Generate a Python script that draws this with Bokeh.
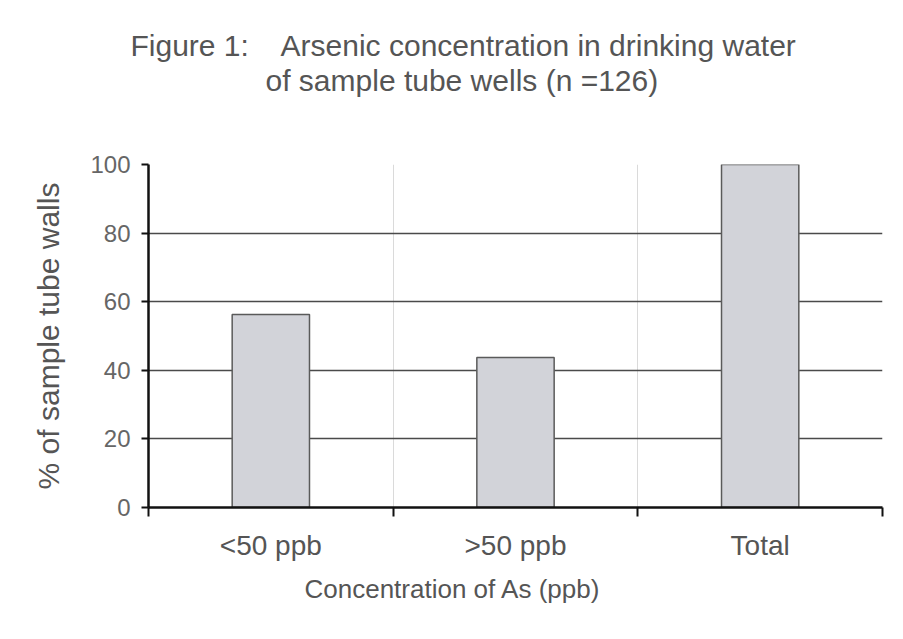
import numpy as np
from bokeh.plotting import figure
from bokeh.models import Range1d, FixedTicker, Title, LinearAxis, ColumnDataSource
from bokeh.embed import file_html
from bokeh.resources import INLINE

categories = ["<50 ppb", ">50 ppb", "Total"]
percent = [56.3, 43.7, 100.0]
y_ticks = [0, 20, 40, 60, 80, 100]

title_line1 = "Figure 1:\u00a0\u00a0\u00a0 Arsenic concentration in drinking water"
title_line2 = "of sample tube wells (n =126)"
x_label = "Concentration of As (ppb)"
y_label = "% of sample tube walls"

FONT = "Liberation Sans"

n = len(categories)
centers = [i + 0.5 for i in range(n)]
bounds = list(range(n + 1))

src = ColumnDataSource(dict(x=centers, top=percent, cat=categories))

p = figure(width=887, height=623, output_backend="svg", toolbar_location=None,
           x_range=Range1d(0, n), y_range=Range1d(0, 100),
           min_border_left=148, min_border_right=5, min_border_top=164,
           min_border_bottom=116, background_fill_color="white",
           border_fill_color="white")
p.outline_line_color = None

# keep handles on the real axes before adding anything else
xa = p.below[0]
ya = p.left[0]

# title line 1 (outermost)
p.title.text = title_line1
p.title.align = "left"
p.title.offset = -18
p.title.text_font = FONT
p.title.text_font_size = "30px"
p.title.text_font_style = "normal"
p.title.text_color = "#555555"
p.title.standoff = 0

# invisible spacer between title block and the frame (one hidden tick)
spacer = LinearAxis(ticker=FixedTicker(ticks=[centers[1]], minor_ticks=[]),
                    axis_line_color=None,
                    major_tick_line_color=None, minor_tick_line_color=None,
                    major_tick_out=68, major_tick_in=0, minor_tick_out=0,
                    minor_tick_in=0, major_label_standoff=0,
                    major_label_overrides={centers[1]: ""},
                    major_label_text_font_size="1px", major_label_text_alpha=0)
p.add_layout(spacer, "above")

t2 = Title(text=title_line2, align="left", offset=117, text_font=FONT,
           text_font_size="30px", text_font_style="normal", text_color="#555555",
           standoff=0)
p.add_layout(t2, "above")

p.vbar(x="x", top="top", width=0.316, bottom=0, source=src,
       fill_color="#d2d3d9", line_color="#5a5a5a", line_width=1.5)

# x axis
xa.ticker = FixedTicker(ticks=centers, minor_ticks=bounds)
xa.major_label_overrides = {c: lab for c, lab in zip(centers, categories)}
xa.major_tick_out = 0
xa.major_tick_in = 0
xa.minor_tick_out = 9
xa.minor_tick_in = 0
xa.minor_tick_line_color = "#111111"
xa.minor_tick_line_width = 2
xa.axis_line_color = "#111111"
xa.axis_line_width = 2.5
xa.major_label_text_font = FONT
xa.major_label_text_font_size = "28px"
xa.major_label_text_color = "#555555"
xa.major_label_standoff = 13

p.add_layout(Title(text=x_label, align="left", offset=156, text_font=FONT,
                   text_font_size="26px", text_font_style="normal",
                   text_color="#555555", standoff=16), "below")

# y axis
ya.ticker = FixedTicker(ticks=y_ticks)
ya.major_tick_out = 7
ya.major_tick_in = 0
ya.major_tick_line_color = "#111111"
ya.major_tick_line_width = 2
ya.minor_tick_out = 0
ya.minor_tick_in = 0
ya.axis_line_color = "#111111"
ya.axis_line_width = 2.5
ya.major_label_text_font = FONT
ya.major_label_text_font_size = "24px"
ya.major_label_text_color = "#666666"
ya.major_label_standoff = 11
ya.axis_label = y_label
ya.axis_label_text_font = FONT
ya.axis_label_text_font_size = "30px"
ya.axis_label_text_font_style = "normal"
ya.axis_label_text_color = "#555555"
ya.axis_label_standoff = 22

# grids
p.xgrid.ticker = FixedTicker(ticks=bounds)
p.xgrid.grid_line_color = "#dadada"
p.xgrid.grid_line_width = 1
p.ygrid.grid_line_color = "#4a4a4a"
p.ygrid.grid_line_width = 1.3

open("out.html", "w").write(file_html(p, INLINE))
